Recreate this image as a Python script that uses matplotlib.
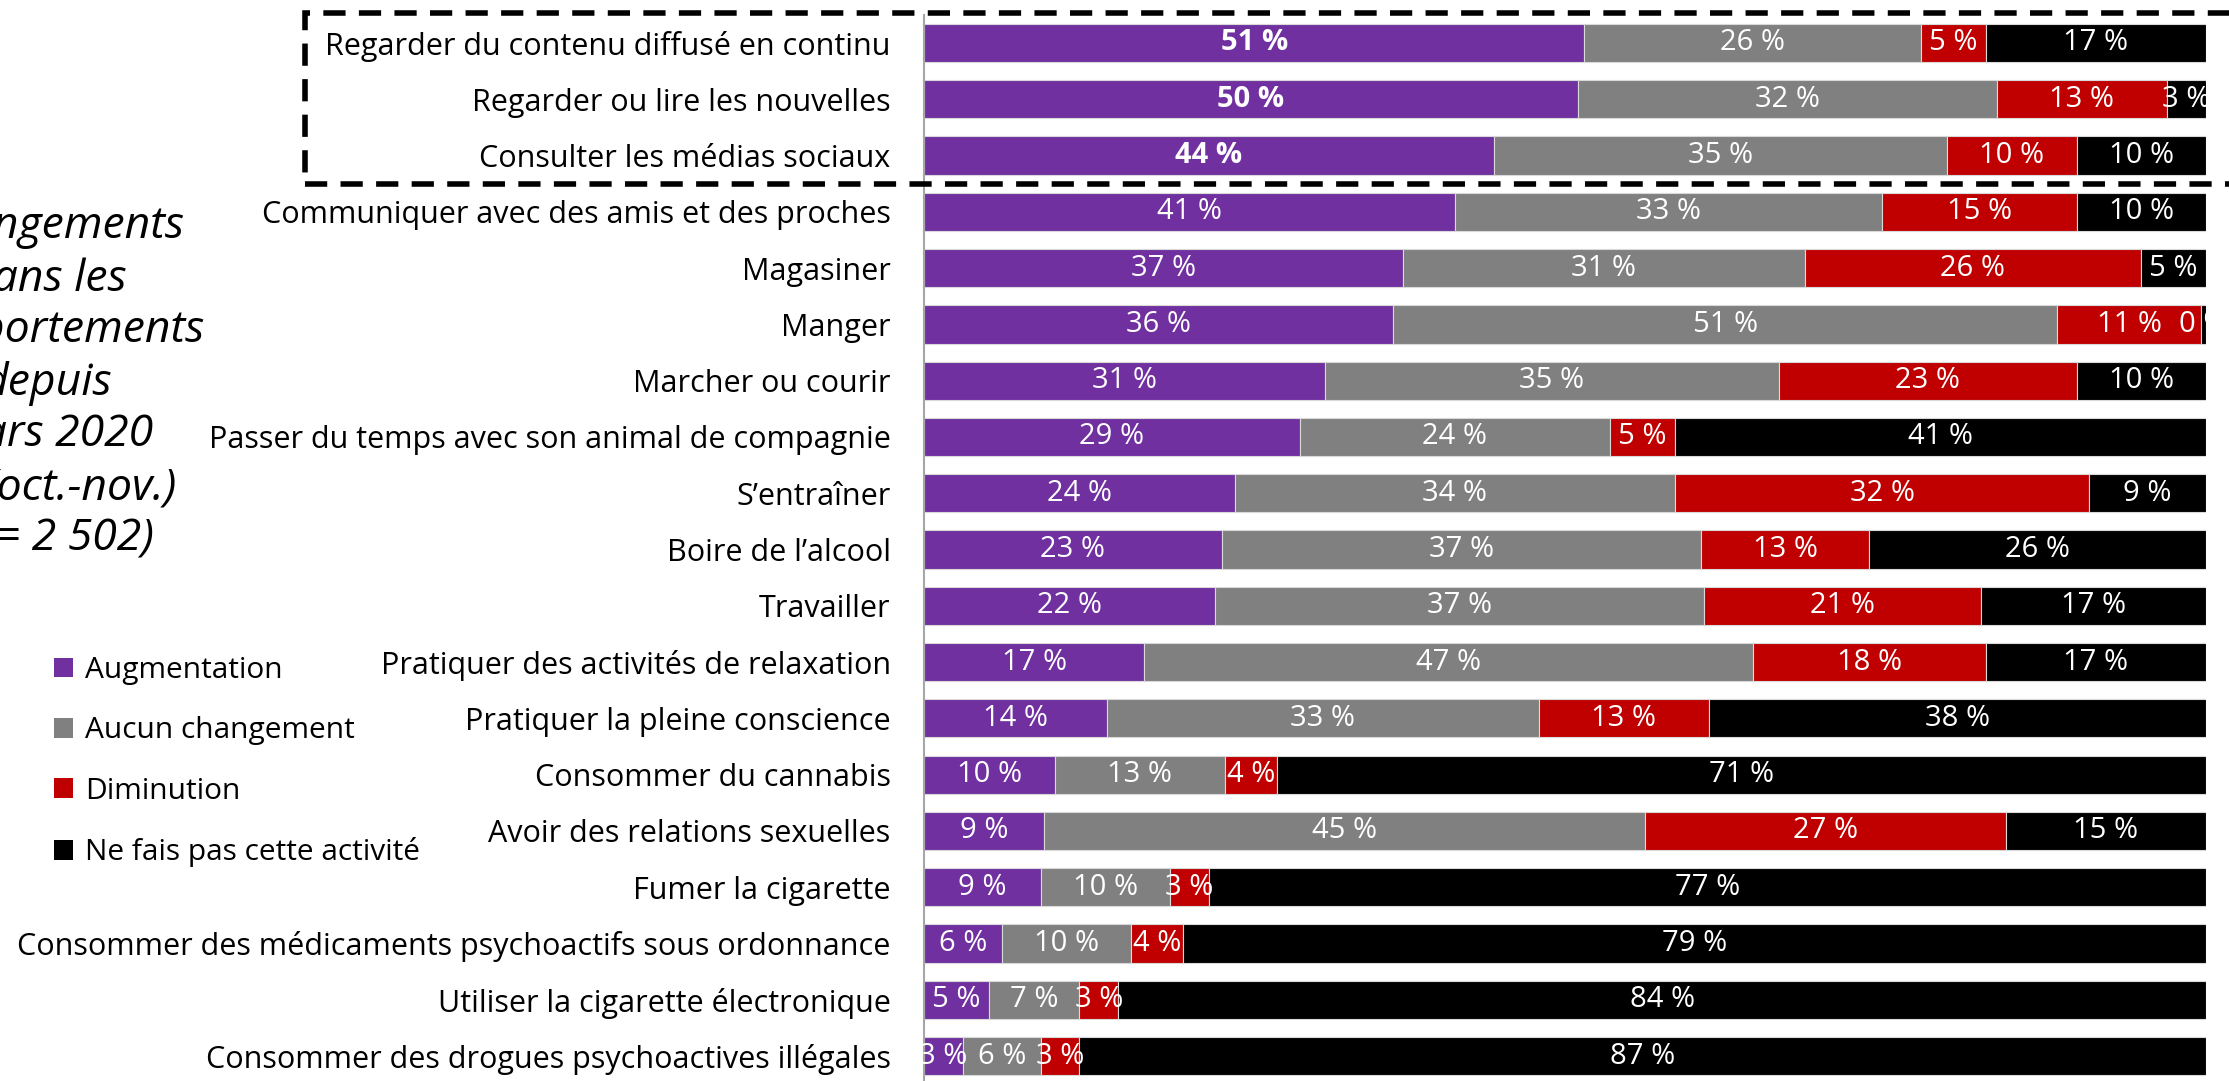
import matplotlib
matplotlib.use("Agg")
import matplotlib.pyplot as plt
from matplotlib.patches import Rectangle, Patch
import numpy as np

plt.rcParams['font.family'] = ['Open Sans', 'DejaVu Sans']

categories = [
    "Regarder du contenu diffusé en continu",
    "Regarder ou lire les nouvelles",
    "Consulter les médias sociaux",
    "Communiquer avec des amis et des proches",
    "Magasiner",
    "Manger",
    "Marcher ou courir",
    "Passer du temps avec son animal de compagnie",
    "S\u2019entraîner",
    "Boire de l\u2019alcool",
    "Travailler",
    "Pratiquer des activités de relaxation",
    "Pratiquer la pleine conscience",
    "Consommer du cannabis",
    "Avoir des relations sexuelles",
    "Fumer la cigarette",
    "Consommer des médicaments psychoactifs sous ordonnance",
    "Utiliser la cigarette électronique",
    "Consommer des drogues psychoactives illégales",
]
augmentation = [51, 50, 44, 41, 37, 36, 31, 29, 24, 23, 22, 17, 14, 10, 9, 9, 6, 5, 3]
aucun_changement = [26, 32, 35, 33, 31, 51, 35, 24, 34, 37, 37, 47, 33, 13, 45, 10, 10, 7, 6]
diminution = [5, 13, 10, 15, 26, 11, 23, 5, 32, 13, 21, 18, 13, 4, 27, 3, 4, 3, 3]
ne_fais_pas = [17, 3, 10, 10, 5, 0.4, 10, 41, 9, 26, 17, 17, 38, 71, 15, 77, 79, 84, 87]

series_names = ["Augmentation", "Aucun changement", "Diminution", "Ne fais pas cette activité"]
colors = ["#7030A0", "#808080", "#C00000", "#000000"]

title_lines = ["Changements", "dans les", "comportements", "depuis", "mars 2020",
               "(oct.-nov.)", "(n = 2 502)"]

W, H = 2229, 1081
fig = plt.figure(figsize=(W / 100, H / 100), dpi=100)

# axes geometry (pixels)
x0, x1 = 924, 2206
yc_first, step = 43, 56.28
r_top = (0 - yc_first) / step
r_bot = (H - yc_first) / step
ax = fig.add_axes([x0 / W, 0, (x1 - x0) / W, 1])

data = np.array([augmentation, aucun_changement, diminution, ne_fais_pas], dtype=float)
totals = data.sum(axis=0)
norm = data / totals * 100
n = len(categories)
ypos = np.arange(n)
left = np.zeros(n)
for k in range(4):
    ax.barh(ypos, norm[k], left=left, height=0.68, color=colors[k],
            edgecolor="#d9d9d9", linewidth=0.8, label=series_names[k])
    for i in range(n):
        v = data[k, i]
        cx = left[i] + norm[k, i] / 2
        bold = (k == 0 and i < 3)
        ax.text(cx, ypos[i], f"{v:.0f} %", ha="center", va="center",
                color="white", fontsize=21, fontweight="bold" if bold else "normal",
                clip_on=False)
    left += norm[k]

ax.set_xlim(0, 100)
ax.set_ylim(r_bot, r_top)
ax.set_yticks(ypos)
ax.set_yticklabels(categories, fontsize=22)
ax.tick_params(axis="y", length=0, pad=24)
ax.set_xticks([])
for s in ["top", "right", "bottom"]:
    ax.spines[s].set_visible(False)
ax.spines["left"].set_color("#a6a6a6")
ax.spines["left"].set_linewidth(1.5)
ax.spines["left"].set_bounds(-0.5, r_bot)

# title lines (left, partly cut off)
title_right = [185, 127, 205, 112, 153, 177, 154]
title_y = [227, 280, 331, 384, 435, 488, 539]
for t, xr, yy in zip(title_lines, title_right, title_y):
    fig.text(xr / W, 1 - yy / H, t, ha="right", va="center", fontsize=32,
             style="italic", color="black")

# legend
handles = [Patch(facecolor=c, edgecolor="none") for c in colors]
leg = fig.legend(handles, series_names, loc="upper left",
                 bbox_to_anchor=(54 / W, 1 - 656 / H), bbox_transform=fig.transFigure,
                 frameon=False, fontsize=21.5, handlelength=0.65, handleheight=0.65,
                 handletextpad=0.4, labelspacing=1.05, borderpad=0, borderaxespad=0)

# dashed highlight box
rect = Rectangle((305 / W, 1 - 184 / H), (2260 - 305) / W, (184 - 13) / H,
                 transform=fig.transFigure, fill=False, edgecolor="black",
                 linewidth=4, linestyle=(0, (4, 2.4)), clip_on=False)
fig.patches.append(rect)

fig.savefig("out.png", dpi=100)
